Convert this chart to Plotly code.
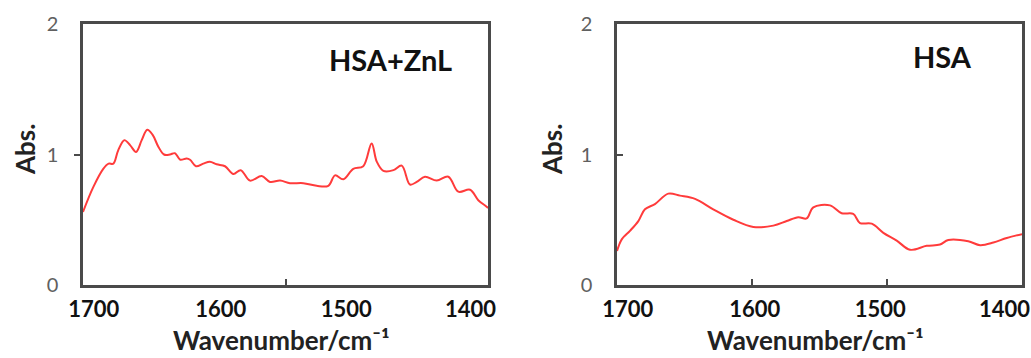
import plotly.graph_objects as go

# HSA+ZnL spectrum (left)
wn_znl = [1700, 1692.4, 1685, 1681, 1677.5, 1674, 1669.4, 1665, 1660.7, 1656.5, 1652.4,
          1648.4, 1644.2, 1640, 1635.6, 1631.9, 1628, 1623.2, 1620.7, 1616.3, 1610.9,
          1606, 1601, 1594.8, 1588.6, 1583.2, 1576.3, 1567.6, 1561.5, 1554, 1546.7,
          1536.8, 1526.9, 1518.3, 1513.3, 1507.2, 1499.8, 1492.4, 1486.2, 1482.4,
          1477.5, 1470, 1463.9, 1457.8, 1452.8, 1446.7, 1438, 1429.4, 1422, 1413.3,
          1407.2, 1401, 1400]
abs_znl = [0.56, 0.75, 0.89, 0.93, 0.93, 1.03, 1.11, 1.07, 1.02, 1.11, 1.19,
           1.15, 1.06, 1.00, 1.00, 1.01, 0.96, 0.97, 0.96, 0.91, 0.93,
           0.945, 0.925, 0.91, 0.85, 0.88, 0.80, 0.835, 0.79, 0.80, 0.78,
           0.78, 0.76, 0.76, 0.84, 0.81, 0.89, 0.91, 1.085, 0.945,
           0.875, 0.88, 0.915, 0.77, 0.79, 0.83, 0.80, 0.83, 0.715, 0.73,
           0.65, 0.60, 0.59]

# HSA spectrum (right)
wn_hsa = [1700, 1696.5, 1690.4, 1684.2, 1679.3, 1671.9, 1662, 1653.3, 1642.2, 1628.7,
          1613.8, 1599, 1584.2, 1574.3, 1565.7, 1559.5, 1554.6, 1542.2, 1533.6, 1525,
          1520, 1511.3, 1502.7, 1492.8, 1482.9, 1470.6, 1460.7, 1454.6, 1439.8, 1431,
          1421.2, 1411.3, 1400]
abs_hsa = [0.26, 0.35, 0.415, 0.49, 0.58, 0.62, 0.70, 0.685, 0.66, 0.58,
           0.50, 0.445, 0.455, 0.49, 0.52, 0.51, 0.595, 0.61, 0.55, 0.545,
           0.475, 0.47, 0.40, 0.34, 0.27, 0.30, 0.31, 0.345, 0.335, 0.305,
           0.325, 0.36, 0.39]

# tick label texts and where the picture places them along the axis
x_tick_text = ["1700", "1600", "1500", "1400"]
x_tick_pos = [1692, 1598, 1505, 1413]
y_ticks = [0, 1, 2]
labels = ["HSA+ZnL", "HSA"]

RED = "#ff3b3b"
FRAME = "#4a4a4a"
FONT = "Lato"

fig = go.Figure()
fig.add_trace(go.Scatter(x=wn_znl, y=abs_znl, mode="lines", line=dict(color=RED, width=2),
                         xaxis="x", yaxis="y", showlegend=False, line_shape="spline"))
fig.add_trace(go.Scatter(x=wn_hsa, y=abs_hsa, mode="lines", line=dict(color=RED, width=2),
                         xaxis="x2", yaxis="y2", showlegend=False, line_shape="spline"))

W, H = 1031, 358
doms_x = [(83 / W, 488 / W), (617 / W, 1022 / W)]
dom_y = (1 - 285 / H, 1 - 24 / H)

common_x = dict(range=[1700, 1400], showgrid=False, zeroline=False, showline=True,
                linecolor=FRAME, linewidth=2.5, mirror=True, automargin=False,
                tickmode="array", tickvals=x_tick_pos, ticktext=x_tick_text, ticks="",
                tickfont=dict(family=FONT, size=22, color="#111111", weight="bold"),
                ticklabelstandoff=3, ticklabeloverflow="allow")
common_y = dict(range=[0, 2], showgrid=False, zeroline=False, showline=True,
                linecolor=FRAME, linewidth=2.5, mirror=True, automargin=False,
                tickmode="array", tickvals=y_ticks, ticktext=[str(v) for v in y_ticks],
                ticks="", tickfont=dict(family=FONT, size=20, color="#606060"),
                ticklabelstandoff=18)

fig.update_layout(
    width=W, height=H, margin=dict(l=0, r=0, t=0, b=0, autoexpand=False),
    paper_bgcolor="white", plot_bgcolor="white",
    xaxis=dict(domain=doms_x[0], anchor="y",
               minor=dict(tickmode="array", tickvals=[1550], ticks="inside", ticklen=6,
                          tickcolor=FRAME, tickwidth=2), **common_x),
    yaxis=dict(domain=dom_y, anchor="x",
               minor=dict(tickmode="array", tickvals=[1], ticks="outside", ticklen=6,
                          tickcolor=FRAME, tickwidth=2), **common_y),
    xaxis2=dict(domain=doms_x[1], anchor="y2",
                minor=dict(tickmode="array", tickvals=[1600, 1500], ticks="inside", ticklen=6,
                           tickcolor=FRAME, tickwidth=2), **common_x),
    yaxis2=dict(domain=dom_y, anchor="x2",
                minor=dict(tickmode="array", tickvals=[1], ticks="inside", ticklen=6,
                           tickcolor=FRAME, tickwidth=2), **common_y),
)

title_font = dict(family=FONT, size=26, color="#222222", weight="bold")
# axis titles
for cx, ax_x in [(281 / W, 25 / W), (815 / W, 552 / W)]:
    fig.add_annotation(xref="paper", yref="paper", x=cx, y=1 - 340 / H, text="Wavenumber/cm⁻¹",
                       showarrow=False, font=title_font, xanchor="center", yanchor="middle")
    fig.add_annotation(xref="paper", yref="paper", x=ax_x, y=1 - 150 / H, text="Abs.",
                       showarrow=False, font=title_font, textangle=-90,
                       xanchor="center", yanchor="middle")

# panel labels
lab_font = dict(family=FONT, size=29, color="#111111", weight="bold")
fig.add_annotation(xref="paper", yref="paper", x=390 / W, y=1 - 60 / H, text=labels[0],
                   showarrow=False, font=lab_font, xanchor="center", yanchor="middle")
fig.add_annotation(xref="paper", yref="paper", x=942 / W, y=1 - 57 / H, text=labels[1],
                   showarrow=False, font=lab_font, xanchor="center", yanchor="middle")

fig.write_html("out.html")
